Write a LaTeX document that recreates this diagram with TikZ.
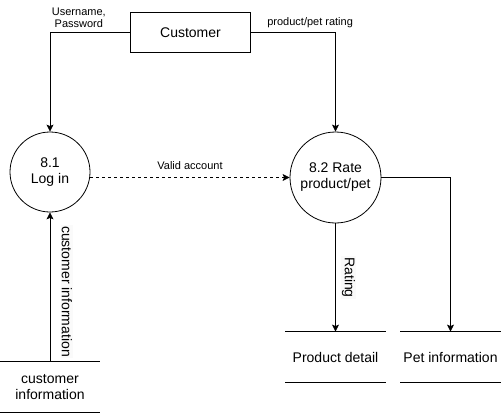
\documentclass[tikz,border=0pt]{standalone}
\usepackage{fontspec}
\setmainfont{Liberation Sans}
\usetikzlibrary{arrows.meta}
\begin{document}
\begin{tikzpicture}[x=1pt,y=-1pt,line width=0.8pt,
	>={Stealth[length=7pt,width=7pt,inset=1.5pt]},
	entity/.style={draw,minimum width=120pt,minimum height=40pt,font=\fontsize{14}{16}\selectfont},
	proc/.style={draw,circle,minimum size=80pt,inner sep=0pt,align=center,font=\fontsize{14}{16}\selectfont},
	store/.style={minimum width=100pt,minimum height=50pt,inner sep=0pt,align=center,font=\fontsize{14}{16}\selectfont},
	lbl/.style={font=\fontsize{11}{12}\selectfont,inner sep=1pt,align=center},
	vlbl/.style={font=\fontsize{14}{16}\selectfont,inner sep=1pt,fill=gray!4,rotate=-90}]
\useasboundingbox (0,0) rectangle (502,414);
\node[entity] (cust) at (190.5,32.3) {Customer};
\node[proc] (login) at (50,172) {8.1\\Log in};
\node[proc,minimum size=91pt] (rate) at (335.5,177.5) {8.2 Rate\\product/pet};
\node[store] (cinfo) at (50,387) {customer\\information};
\node[store] (prod) at (335.5,357) {Product detail};
\node[store] (pet) at (450.5,357) {Pet information};
\foreach \s in {cinfo,prod,pet}
\draw (\s.north west) -- (\s.north east) (\s.south west) -- (\s.south east);
%flows
\draw[->] (cust.west) -| node[lbl,pos=0.32,above=3pt]{Username,\\Password} (login.north);
\draw[->] (cust.east) -| node[lbl,pos=0.35,above=3pt]{product/pet rating} (rate.north);
\draw[->,dashed] (login.east |- rate.west) -- node[lbl,above=6pt]{Valid account} (rate.west);
\draw[->] (rate.south) -- node[xshift=13pt,vlbl]{Rating} (prod.north);
\draw[->] (rate.east) -| (pet.north);
\draw[->] (cinfo.north) -- node[xshift=17pt,vlbl,pos=0.47]{customer information} (login.south);
\end{tikzpicture}
\end{document}
